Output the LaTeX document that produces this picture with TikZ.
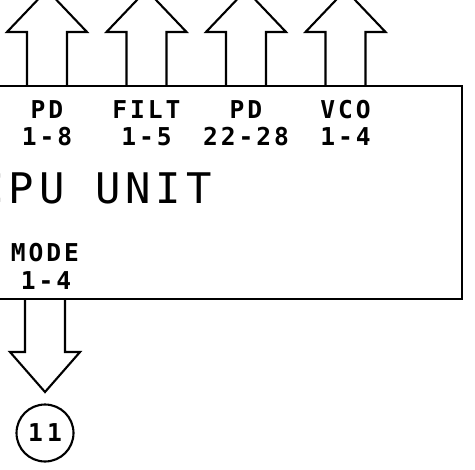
\documentclass[tikz,border=0pt]{standalone}
\usepackage{fontspec}
\newfontfamily\plotfont{DejaVu Sans Mono}[LetterSpace=12]
\usetikzlibrary{positioning}

\begin{document}
\begin{tikzpicture}[x=0.02cm, y=-0.02cm, line join=miter,
  boxline/.style={line width=1.4pt},
  fatarrow/.style={line width=1.2pt},
  lbl/.style={font=\plotfont\bfseries\fontsize{14}{15}\selectfont, inner sep=0pt}]
\useasboundingbox (0,0) rectangle (475,469);
\clip (0,0) rectangle (475,469);
% unit box, left side runs off the sheet
\node[boxline, draw, inner sep=0pt, outer sep=0pt, anchor=north east,
  minimum width=9.64cm, minimum height=4.26cm] (cpu) at (462,86) {};
\node[font=\plotfont\fontsize{24}{26}\selectfont, inner sep=0pt, anchor=west] (title) at (-22,188.5) {CPU UNIT};
% outputs on top
\foreach \cx/\name/\top/\bot in {47/pdA/PD/1-8, 146.5/filt/FILT/1-5, 246/pdB/PD/22-28, 345.5/vco/VCO/1-4}{
  \draw[fatarrow] (\cx-20,86) -- (\cx-20,32) -- (\cx-40,32) -- (\cx,-10) -- (\cx+40,32) -- (\cx+20,32) -- (\cx+20,86);
  \node[lbl] (\name) at (\cx,110) {\top};
  \node[lbl] (\name-n) at (\cx,137) {\bot};
}
% mode output at the bottom
\node[lbl] (mode) at (45,253) {MODE};
\node[lbl] (mode-n) at (46,281) {1-4};
\draw[fatarrow] (25,299) -- (25,352) -- (10,352) -- (45,392) -- (80,352) -- (65,352) -- (65,299);
\node[draw, circle, line width=1.2pt, minimum size=1.14cm, inner sep=0pt,
  font=\plotfont\bfseries\fontsize{14}{15}\selectfont] (sheet) at (45,433) {1\,1};
\end{tikzpicture}
\end{document}
